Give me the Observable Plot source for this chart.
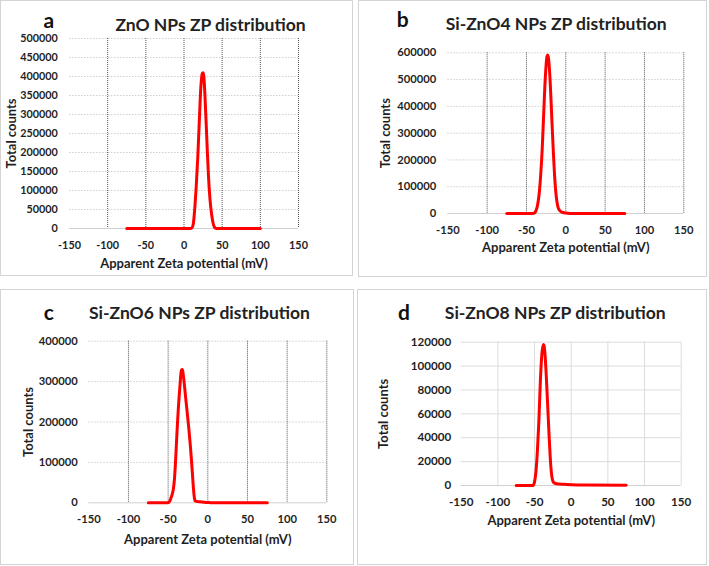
<!DOCTYPE html>
<html><head><meta charset="utf-8">
<script src="https://cdn.jsdelivr.net/npm/d3@7"></script>
<script src="https://cdn.jsdelivr.net/npm/@observablehq/plot@0.6"></script>
<style>
body{margin:0;background:#fff}
#wrap{position:relative;width:709px;height:566px;overflow:hidden;background:#fff}
.box{position:absolute;border:1px solid #d4d4d4;box-sizing:border-box}
.pl{position:absolute}
</style>
</head><body><div id="wrap"></div>
<script>
// ---- shared axis ticks ----
const xTicks = [-150, -100, -50, 0, 50, 100, 150];
const xGrid = [-100, -50, 0, 50, 100, 150];

// ---- panel titles ----
const letters = ["a", "b", "c", "d"];
const titles = ["ZnO NPs ZP distribution", "Si-ZnO4 NPs ZP distribution", "Si-ZnO6 NPs ZP distribution", "Si-ZnO8 NPs ZP distribution"];
const xLabel = "Apparent Zeta potential (mV)";
const yLabel = "Total counts";

// ---- y ticks per panel ----
const yTicksA = [0, 50000, 100000, 150000, 200000, 250000, 300000, 350000, 400000, 450000, 500000];
const yTicksB = [0, 100000, 200000, 300000, 400000, 500000, 600000];
const yTicksC = [0, 100000, 200000, 300000, 400000];
const yTicksD = [0, 20000, 40000, 60000, 80000, 100000, 120000];

// ---- series (mV, counts) ----
const znoMv     = [-75, 8, 10, 12, 14, 16, 18, 20, 22, 24, 25, 26, 28, 30, 32, 34, 36, 38, 40, 42, 100];
const znoCounts = [0, 0, 800, 10000, 50000, 110000, 185000, 280000, 370000, 408000, 410000, 400000, 325000, 230000, 140000, 78000, 40000, 15000, 3000, 0, 0];

const zno4Mv     = [-75, -42, -40, -38, -36, -34, -32, -30, -28, -26, -24, -23, -22, -20, -18, -16, -14, -12, -10, -8, -5, 0, 5, 75];
const zno4Counts = [0, 0, 2000, 10000, 30000, 70000, 140000, 240000, 380000, 510000, 585000, 592000, 580000, 500000, 370000, 240000, 130000, 60000, 25000, 12000, 5000, 1500, 0, 0];

const zno6Mv     = [-75, -50, -48, -46, -44, -43, -42, -41, -40, -39, -38, -37, -36, -35, -34, -33, -32, -31, -30, -29, -28, -27, -26, -25, -24, -23, -22, -21, -20, -19, -18, -17, -16, -14, -10, 0, 5, 75];
const zno6Counts = [0, 0, 4000, 14000, 28000, 40000, 60000, 90000, 128000, 168000, 205000, 238000, 266000, 292000, 318000, 329000, 330000, 318000, 301000, 282000, 262000, 243000, 224000, 205000, 185000, 164000, 141000, 116000, 89000, 61000, 33000, 13000, 5000, 3500, 2500, 1000, 0, 0];

const zno8Mv     = [-75, -52, -50, -48, -46, -44, -42, -40, -38, -37, -36, -34, -32, -30, -28, -26, -24, -20, -10, 0, 20, 75];
const zno8Counts = [0, 0, 3000, 12000, 30000, 55000, 88000, 110000, 118000, 117000, 112000, 92000, 66000, 40000, 18000, 6000, 2500, 1500, 1000, 700, 400, 200];

const mvSeries = [znoMv, zno4Mv, zno6Mv, zno8Mv];
const countSeries = [znoCounts, zno4Counts, zno6Counts, zno8Counts];
const yTickSets = [yTicksA, yTicksB, yTicksC, yTicksD];

// ---- layout (positions only) ----
const layouts = [
  {left:0, top:0, w:353, h:276, mL:69, mR:55, mT:38, mB:48, letter:[48.3,20.5], title:[210,24.5], tickFs:10.8, yPad:11.7, xPad:12.6, yLab:11.7, xLab:263.5, grid:"dotted",
   box:{left:0, top:0, w:353, h:276}},
  {left:354, top:0, w:353, h:276, mL:93.3, mR:23.7, mT:52.3, mB:63, letter:[48.3,19.5], title:[201.7,24.3], tickFs:11.2, yPad:11.6, xPad:13, yLab:31.7, xLab:247.5, grid:"dotted",
   box:{left:358, top:0, w:349, h:277}},
  {left:0, top:285, w:353, h:280, mL:88.3, mR:26.7, mT:55.7, mB:62.7, letter:[48.3,28], title:[199,28.3], tickFs:11.2, yPad:11, xPad:12, yLab:28.3, xLab:254, grid:"dotted",
   box:{left:0, top:289, w:354, h:276}},
  {left:354, top:285, w:353, h:280, mL:106.7, mR:26.3, mT:56.7, mB:80, letter:[49.5,27.3], title:[200.8,28.3], tickFs:11.6, yPad:10, xPad:12.7, yLab:29, xLab:235.8, grid:"solid",
   box:{left:357, top:289, w:350, h:276}}
];

const wrap = document.getElementById("wrap");

layouts.forEach((L, i) => {
  const box = document.createElement("div");
  box.className = "box";
  Object.assign(box.style, {left: L.box.left + "px", top: L.box.top + "px", width: L.box.w + "px", height: L.box.h + "px"});
  wrap.appendChild(box);

  const data = mvSeries[i].map((mv, k) => ({mv, counts: countSeries[i][k]}));
  const yTicks = yTickSets[i];
  const ymax = yTicks[yTicks.length - 1];
  const dotted = L.grid === "dotted";
  const textColor = "#1f1f1f";

  const chart = Plot.plot({
    width: L.w, height: L.h,
    marginLeft: L.mL, marginRight: L.mR, marginTop: L.mT, marginBottom: L.mB,
    x: {domain: [-150, 150]},
    y: {domain: [0, ymax]},
    style: {fontFamily: "Lato, 'Open Sans', sans-serif", background: "transparent", color: textColor, overflow: "visible"},
    marks: [
      Plot.ruleY(yTicks.filter(d => d > 0), dotted
        ? {stroke: "#cfcfcf", strokeDasharray: "1.5,1.5", strokeWidth: 1}
        : {stroke: "#dcdcdc", strokeWidth: 1}),
      Plot.ruleX(xGrid, dotted
        ? {stroke: "#555", strokeDasharray: "1,1", strokeWidth: 1}
        : {stroke: "#dcdcdc", strokeWidth: 1}),
      Plot.ruleY([0], {stroke: "#d0d0d0", strokeWidth: 1}),
      Plot.axisX({ticks: xTicks, tickSize: 0, tickPadding: L.xPad, tickFormat: d => String(d), label: null,
        fontSize: L.tickFs, fontWeight: "bold", fill: textColor}),
      Plot.axisY({ticks: yTicks, tickSize: 0, tickPadding: L.yPad, tickFormat: d => String(d), label: null,
        fontSize: L.tickFs, fontWeight: "bold", fill: textColor}),
      Plot.line(data, {x: "mv", y: "counts", stroke: "#ff0000", strokeWidth: 3, curve: "monotone-x"}),
      Plot.text([letters[i]], {frameAnchor: "top-left", dx: L.letter[0] - L.mL, dy: L.letter[1] - L.mT,
        text: d => d, fontSize: 21, fontWeight: "bold", fill: "#111", textAnchor: "middle", lineAnchor: "middle"}),
      Plot.text([titles[i]], {frameAnchor: "top-left", dx: L.title[0] - L.mL, dy: L.title[1] - L.mT,
        text: d => d, fontSize: 17.5, fontWeight: "bold", fill: "#222", textAnchor: "middle", lineAnchor: "middle"}),
      Plot.text([yLabel], {frameAnchor: "left", dx: L.yLab - L.mL, rotate: -90,
        text: d => d, fontSize: 13, fontWeight: "bold", fill: textColor, textAnchor: "middle", lineAnchor: "middle"}),
      Plot.text([xLabel], {frameAnchor: "bottom", dy: L.xLab - (L.h - L.mB),
        text: d => d, fontSize: 13, fontWeight: "bold", fill: textColor, textAnchor: "middle", lineAnchor: "middle"})
    ]
  });
  chart.classList.add("pl");
  chart.style.left = L.left + "px";
  chart.style.top = L.top + "px";
  wrap.appendChild(chart);
});
</script>
</body></html>
